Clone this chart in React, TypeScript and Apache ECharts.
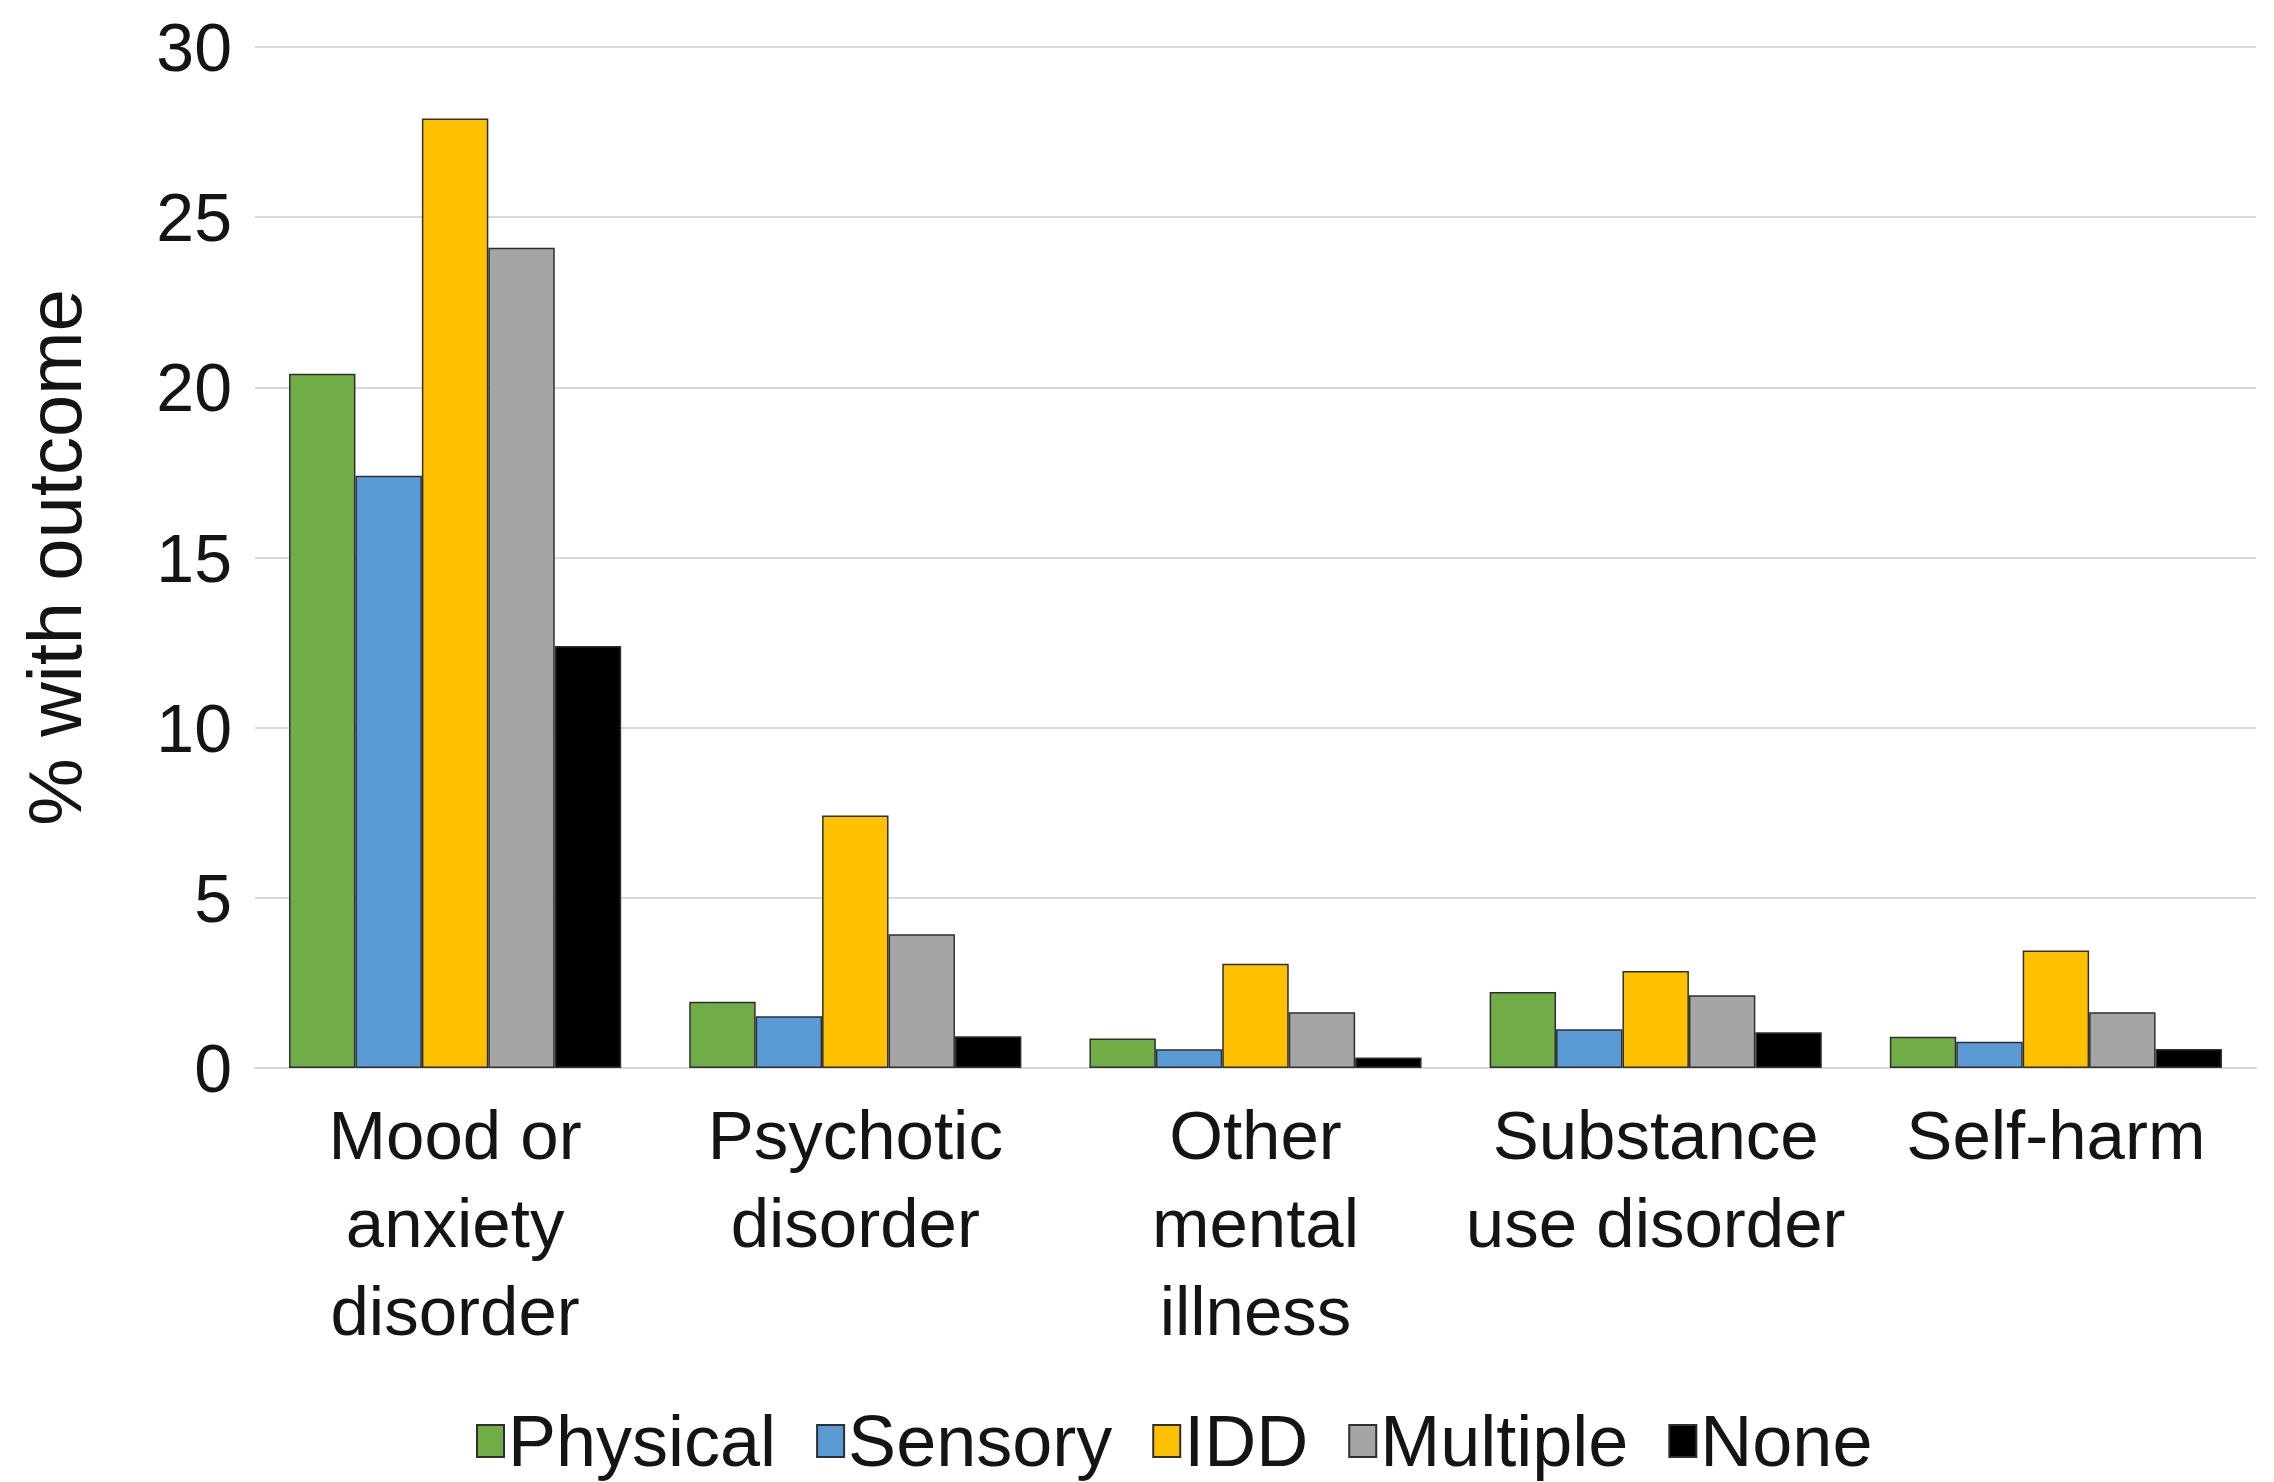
import React, { useEffect, useRef } from "react";
import * as echarts from "echarts";

const categories = [
  "Mood or\nanxiety\ndisorder",
  "Psychotic\ndisorder",
  "Other\nmental\nillness",
  "Substance\nuse disorder",
  "Self-harm",
];

const seriesNames = ["Physical", "Sensory", "IDD", "Multiple", "None"];
const seriesColors = ["#70ad47", "#5b9bd5", "#ffc000", "#a5a5a5", "#000000"];

const physical = [20.4, 1.95, 0.87, 2.23, 0.92];
const sensory = [17.4, 1.52, 0.55, 1.14, 0.77];
const idd = [27.9, 7.42, 3.06, 2.85, 3.45];
const multiple = [24.1, 3.93, 1.64, 2.14, 1.64];
const none = [12.4, 0.93, 0.31, 1.05, 0.56];

const yTicks = [0, 5, 10, 15, 20, 25, 30];

const seriesValues = [physical, sensory, idd, multiple, none];

const FONT = "'Liberation Sans', Arial, sans-serif";
const INK = "#141414";

export default function App() {
  const ref = useRef<HTMLDivElement>(null);

  useEffect(() => {
    if (!ref.current) return;
    const chart = echarts.init(ref.current, null, { renderer: "svg" });
    chart.setOption({
      animation: false,
      backgroundColor: "#ffffff",
      textStyle: { fontFamily: FONT },
      grid: { left: 255, right: 18, top: 47, bottom: 414, containLabel: false },
      legend: {
        data: seriesNames,
        left: 471,
        top: 1400,
        itemWidth: 27,
        itemHeight: 32,
        itemGap: 40,
        icon: "rect",
        textStyle: { fontSize: 72, lineHeight: 72, color: INK, fontFamily: FONT, padding: [0, 0, 0, -1] },
      },
      xAxis: {
        type: "category",
        data: categories,
        axisLine: { show: true, lineStyle: { color: "#d9d9d9", width: 2 } },
        axisTick: { show: false },
        axisLabel: {
          interval: 0,
          margin: 23,
          fontSize: 69,
          lineHeight: 88,
          color: INK,
          fontFamily: FONT,
        },
      },
      yAxis: {
        type: "value",
        min: yTicks[0],
        max: yTicks[yTicks.length - 1],
        interval: 5,
        name: "% with outcome",
        nameLocation: "middle",
        nameGap: 163,
        nameTextStyle: { fontSize: 76, color: INK, fontFamily: FONT },
        axisLine: { show: false },
        axisTick: { show: false },
        axisLabel: { margin: 23, fontSize: 68, color: INK, fontFamily: FONT },
        splitLine: { lineStyle: { color: "#d9d9d9", width: 2 } },
      },
      series: seriesNames.map((name, i) => ({
        name,
        type: "bar",
        data: seriesValues[i],
        barGap: "0%",
        barCategoryGap: "17%",
        itemStyle: {
          color: seriesColors[i],
          borderColor: "#2f2f2f",
          borderWidth: 1.5,
        },
      })),
    });
    return () => chart.dispose();
  }, []);

  return (
    <div
      ref={ref}
      style={{ position: "fixed", left: 0, top: 0, width: 2274, height: 1482 }}
    />
  );
}
